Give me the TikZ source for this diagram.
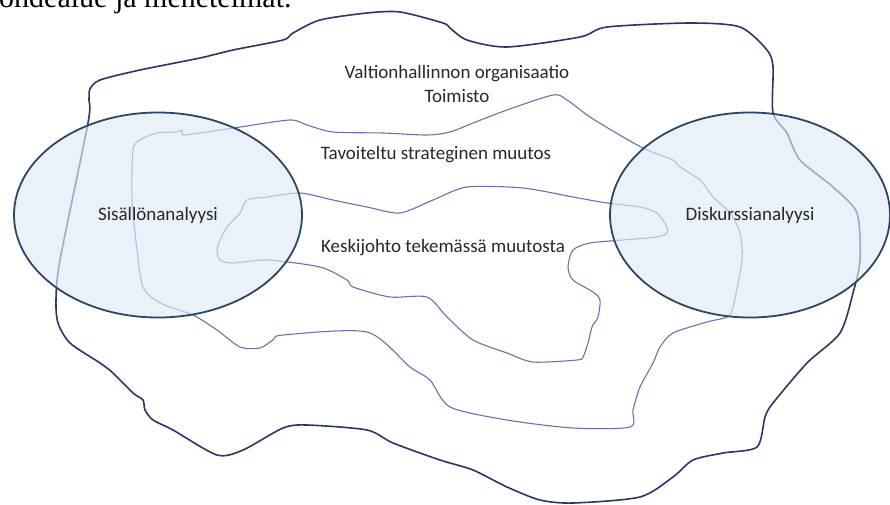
\documentclass[tikz,border=0pt]{standalone}
\usepackage{fontspec}
\setmainfont{Carlito}
\newfontfamily\pagefont{Liberation Serif}
\usetikzlibrary{shapes.geometric}

\definecolor{outerblue}{RGB}{40,55,100}
\definecolor{innerblue}{RGB}{100,115,175}
\definecolor{lensline}{RGB}{45,70,100}
\definecolor{lensfill}{RGB}{222,234,246}
\definecolor{labelgrey}{RGB}{40,40,40}

\begin{document}
\begin{tikzpicture}[x=1pt,y=-1pt,
    outerline/.style={draw=outerblue,line width=1.6pt,line join=round},
    innerline/.style={draw=innerblue,line width=1.1pt,line join=round},
    lens/.style={ellipse,draw=lensline,line width=1.8pt,fill=lensfill,
        fill opacity=0.65,text opacity=1,minimum width=288pt,minimum height=205pt,
        text=labelgrey,font=\fontsize{19}{22}\selectfont},
    label/.style={text=labelgrey,font=\fontsize{19}{24}\selectfont,align=center}]
    \useasboundingbox (0,0) rectangle (890,504);

    % Cut-off line of the page text above the figure
    \begin{scope}
        \clip (0,0) rectangle (890,504);
        \node[anchor=base west,inner sep=0pt,font=\pagefont\fontsize{30}{31}\selectfont] (pagetext) at (-1,7) {ohdealue ja menetelmät.};
    \end{scope}

    % Valtionhallinnon organisaatio (outer area)
    \draw[outerline] plot[smooth cycle,tension=0.45] coordinates {
        (88,123) (89,100) (90,89) (100,80) (140,70) (200,58) (233,50) (283,40)
        (293,33) (320,20) (367,13) (400,12) (443,23) (450,28) (467,40) (507,47)
        (580,37) (607,27) (690,23) (740,27) (767,50) (773,67) (773,113) (787,133)
        (800,160) (833,187) (857,213) (860,260) (853,293) (840,333) (807,363)
        (773,403) (765,417) (757,447) (723,453) (693,460) (673,477) (640,497)
        (573,503) (540,500) (507,487) (473,470) (440,460) (393,443) (367,430)
        (307,425) (283,428) (243,450) (217,455) (173,430) (153,420) (145,410)
        (143,400) (133,393) (113,373) (100,363) (70,343) (58,323) (56,300) (60,260)};

    % Tavoiteltu strateginen muutos
    \draw[innerline] plot[smooth cycle,tension=0.45] coordinates {
        (133,150) (140,140) (157,133) (177,132) (182,130) (183,135) (200,133)
        (240,127) (290,120) (307,125) (333,132) (383,133) (427,135) (450,132)
        (473,123) (507,110) (553,95) (567,100) (590,117) (623,137) (647,150)
        (673,160) (680,167) (700,180) (713,197) (730,213) (740,233) (742,260)
        (733,307) (727,317) (707,322) (673,333) (660,347) (653,363) (640,387)
        (633,410) (630,427) (573,428) (507,420) (450,407) (430,380) (410,367)
        (367,332) (283,335) (273,340) (260,348) (240,347) (217,330) (193,315)
        (160,303) (143,287) (137,250) (132,200)};

    % Keskijohto tekemässä muutosta
    \draw[innerline] plot[smooth cycle,tension=0.45] coordinates {
        (217,250) (220,240) (227,227) (240,213) (247,200) (267,197) (300,193)
        (333,200) (367,207) (400,213) (433,200) (467,187) (523,188) (573,197)
        (607,203) (640,207) (657,213) (667,227) (667,233) (657,237) (623,240)
        (590,243) (573,250) (568,267) (573,280) (593,292) (600,300) (598,317)
        (592,327) (588,343) (583,357) (577,360) (533,362) (507,353) (473,340)
        (447,317) (427,297) (390,297) (353,287) (347,280) (320,267) (267,260)
        (233,263) (220,260)};

    % Labels of the areas
    \node[label] (valtio) at (457,84) {Valtionhallinnon organisaatio\\Toimisto};
    \node[label] (tavoite) at (436,155) {Tavoiteltu strateginen muutos};
    \node[label] (keskijohto) at (443,248) {Keskijohto tekemässä muutosta};

    % Methods
    \node[lens] (sisalto) at (158,215) {Sisällönanalyysi};
    \node[lens,minimum width=280pt] (diskurssi) at (750,215) {Diskurssianalyysi};
\end{tikzpicture}
\end{document}
